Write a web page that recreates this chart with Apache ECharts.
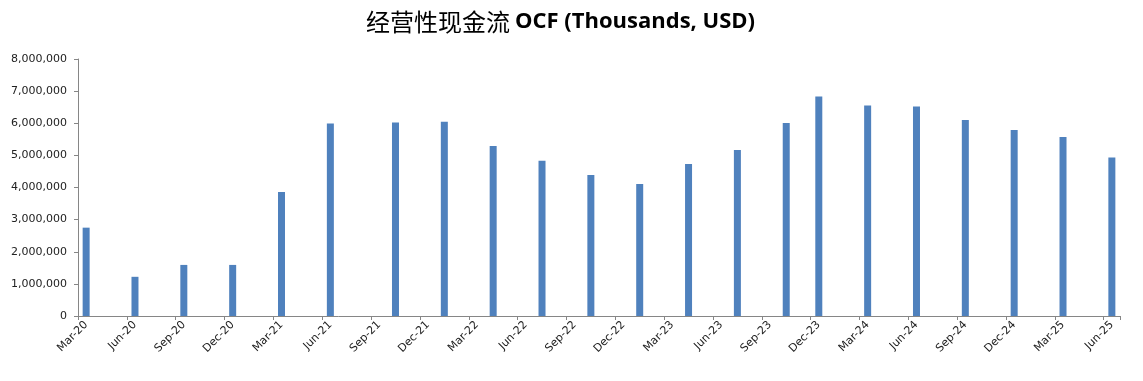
<!DOCTYPE html>
<html>
<head>
<meta charset="utf-8">
<script src="https://cdn.jsdelivr.net/npm/echarts@6/dist/echarts.min.js"></script>
<style>html,body{margin:0;padding:0;background:#fff;}#chart{width:1143px;height:381px;}</style>
</head>
<body>
<div id="chart"></div>
<script>
// Monthly axis from Mar-20 to Jun-25; labels shown every 3rd month
const monthNames = ['Jan','Feb','Mar','Apr','May','Jun','Jul','Aug','Sep','Oct','Nov','Dec'];
const axisStart = {year: 2020, month: 2}; // Mar-20 (0-based month)
const axisMonths = 64;                    // through Jun-25
// Reporting periods with values (thousands USD)
const periods = ['Mar-20','Jun-20','Sep-20','Dec-20','Mar-21','Jun-21','Oct-21','Jan-22','Apr-22','Jul-22','Oct-22','Jan-23','Apr-23','Jul-23','Oct-23','Dec-23','Mar-24','Jun-24','Sep-24','Dec-24','Mar-25','Jun-25'];
const ocfValues = [2750000,1220000,1590000,1590000,3860000,5990000,6020000,6050000,5290000,4830000,4390000,4110000,4730000,5170000,6010000,6830000,6550000,6520000,6100000,5790000,5570000,4930000];
const yTicks = {min: 0, max: 8000000, interval: 1000000};

const categories = [];
for (let i = 0; i < axisMonths; i++) {
  const m = axisStart.month + i;
  const y = axisStart.year + Math.floor(m / 12);
  categories.push(monthNames[m % 12] + '-' + String(y % 100).padStart(2, '0'));
}
const seriesData = categories.map(c => {
  const k = periods.indexOf(c);
  return k >= 0 ? ocfValues[k] : null;
});

const chart = echarts.init(document.getElementById('chart'), null, {renderer: 'canvas'});
const axisFont = 'DejaVu Sans';
chart.setOption({
  animation: false,
  title: {
    text: '{cn|经营性现金流} {en|OCF (Thousands, USD)}',
    left: 361,
    top: 5,
    textStyle: {
      rich: {
        cn: {fontFamily: 'Noto Sans CJK SC', fontSize: 24, color: '#000', fontWeight: 'normal'},
        en: {fontFamily: 'Open Sans', fontSize: 22, color: '#000', fontWeight: 'bold'}
      }
    }
  },
  grid: {left: 78, right: 23, top: 59, bottom: 65, containLabel: false},
  xAxis: {
    type: 'category',
    data: categories,
    boundaryGap: true,
    axisLine: {lineStyle: {color: '#868686', width: 1}},
    axisTick: {show: true, interval: 2, length: 4, lineStyle: {color: '#868686'}},
    axisLabel: {interval: 2, rotate: 45, margin: 7, color: '#222', fontFamily: axisFont, fontSize: 11},
    splitLine: {show: false}
  },
  yAxis: {
    type: 'value',
    min: yTicks.min, max: yTicks.max, interval: yTicks.interval,
    axisLine: {show: true, lineStyle: {color: '#868686', width: 1}},
    axisTick: {show: true, length: 4, lineStyle: {color: '#868686'}},
    axisLabel: {color: '#222', fontFamily: axisFont, fontSize: 11, margin: 11,
      formatter: v => v.toLocaleString('en-US')},
    splitLine: {show: false}
  },
  series: [{
    type: 'bar',
    data: seriesData,
    barWidth: 7,
    itemStyle: {color: '#4F81BD'}
  }]
});
</script>
</body>
</html>
